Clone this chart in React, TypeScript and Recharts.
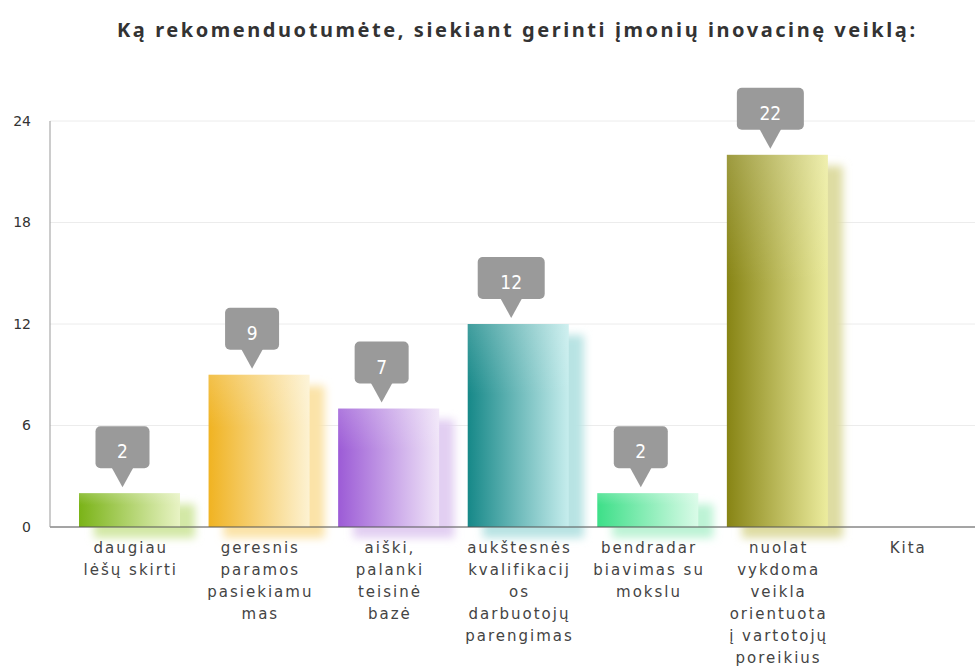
import { Bar, BarChart, CartesianGrid, LabelList, XAxis, YAxis } from "recharts";

const title = "Ką rekomenduotumėte, siekiant gerinti įmonių inovacinę veiklą:";

const categories = [
  "daugiau lėšų skirti",
  "geresnis paramos pasiekiamumas",
  "aiški, palanki teisinė bazė",
  "aukštesnės kvalifikacijos darbuotojų parengimas",
  "bendradarbiavimas su mokslu",
  "nuolat vykdoma veikla orientuota į vartotojų poreikius",
  "Kita",
];
const values = [2, 9, 7, 12, 2, 22, 0];

// tick labels broken the same way as in the picture
const tickLines = [
  ["daugiau", "lėšų skirti"],
  ["geresnis", "paramos", "pasiekiamu", "mas"],
  ["aiški,", "palanki", "teisinė", "bazė"],
  ["aukštesnės", "kvalifikacij", "os", "darbuotojų", "parengimas"],
  ["bendradar", "biavimas su", "mokslu"],
  ["nuolat", "vykdoma", "veikla", "orientuota", "į vartotojų", "poreikius"],
  ["Kita"],
];
const yTicks = [0, 6, 12, 18, 24];

const darkColors = ["#7ab317", "#f0b322", "#9c5bd6", "#168888", "#3ddf88", "#878414"];
const lightColors = ["#e8f3c4", "#fdf2d2", "#f0e5f8", "#c6eded", "#dafbe8", "#ecec9e"];
const shadowColors = ["#d3e8a6", "#fbe3a8", "#e2cff2", "#b8e3e3", "#bdf3d5", "#dedca2"];

const FONT = "'DejaVu Sans', Verdana, sans-serif";

const XTick = (props: any) => {
  const { x, y, payload } = props;
  const idx = categories.indexOf(payload.value);
  const lines = tickLines[idx] ?? [];
  return (
    <text x={x} y={y} textAnchor="middle" fontFamily={FONT} fontSize={15} fill="#444" letterSpacing={2}>
      {lines.map((l, i) => (
        <tspan key={i} x={x + 1} dy={i === 0 ? 18 : 22}>
          {l}
        </tspan>
      ))}
    </text>
  );
};

const renderBar = (props: any) => {
  const { x, y, width, height, index } = props;
  if (!height || height <= 0) return <g />;
  return (
    <g>
      <rect
        x={x + 15}
        y={y + 11}
        width={width}
        height={height}
        fill={shadowColors[index]}
        filter="url(#barBlur)"
      />
      <rect x={x} y={y} width={width} height={height} fill={`url(#bar${index})`} />
      <rect x={x} y={y} width={width} height={height} fill="url(#topShine)" />
    </g>
  );
};

const Callout = (props: any) => {
  const { x, y, width, value } = props;
  if (!value) return null;
  const cx = Number(x) + Number(width) / 2 - 7;
  const tipY = Number(y) - 6;
  const baseY = tipY - 19;
  const w = String(value).length > 1 ? 67 : 54;
  const h = 42;
  return (
    <g>
      <rect x={cx - w / 2} y={baseY - h} width={w} height={h} rx={5} fill="#9a9a9a" />
      <path d={`M${cx - 11},${baseY - 1} L${cx},${tipY} L${cx + 11},${baseY - 1} Z`} fill="#9a9a9a" />
      <text
        x={cx}
        y={baseY - 10}
        textAnchor="middle"
        fontFamily="'DejaVu Sans Condensed', 'DejaVu Sans', sans-serif"
        fontSize={19}
        fill="#fff"
      >
        {value}
      </text>
    </g>
  );
};

export default function App() {
  const data = categories.map((name, i) => ({ name, value: values[i] }));
  return (
    <div style={{ position: "absolute", left: 0, top: 0, width: 975, height: 670, background: "#fff" }}>
      <svg width={975} height={60} style={{ position: "absolute", left: 0, top: 0 }}>
        <text
          x={516}
          y={37}
          textAnchor="middle"
          textLength={798}
          lengthAdjust="spacing"
          fontFamily="'Noto Sans', sans-serif"
          fontWeight="bold"
          fontSize={20}
          fill="#333"
        >
          {title}
        </text>
      </svg>
      <BarChart width={975} height={670} data={data} margin={{ top: 121, right: 0, bottom: 0, left: 0 }}>
        <defs>
          {darkColors.map((c, i) => (
            <linearGradient key={i} id={`bar${i}`} x1="0" y1="0" x2="1" y2="0">
              <stop offset="0%" stopColor={c} />
              <stop offset="100%" stopColor={lightColors[i]} />
            </linearGradient>
          ))}
          <linearGradient id="topShine" x1="0" y1="0" x2="0" y2="1">
            <stop offset="0%" stopColor="#fff" stopOpacity={0.18} />
            <stop offset="35%" stopColor="#fff" stopOpacity={0} />
          </linearGradient>
          <filter id="barBlur" x="-30%" y="-30%" width="160%" height="160%">
            <feGaussianBlur stdDeviation="4" />
          </filter>
        </defs>
        <CartesianGrid vertical={false} stroke="#ececec" />
        <XAxis
          dataKey="name"
          height={143}
          interval={0}
          padding={{ left: 15, right: 3 }}
          tickLine={false}
          axisLine={{ stroke: "#555" }}
          tick={<XTick />}
        />
        <YAxis
          width={50}
          domain={[0, 24]}
          ticks={yTicks}
          tickLine={false}
          tickSize={0}
          tickMargin={19}
          axisLine={{ stroke: "#999" }}
          tick={{ fill: "#333", fontSize: 14, fontFamily: FONT }}
        />
        <Bar dataKey="value" barSize={101} isAnimationActive={false} shape={renderBar}>
          <LabelList dataKey="value" content={Callout} />
        </Bar>
      </BarChart>
    </div>
  );
}
